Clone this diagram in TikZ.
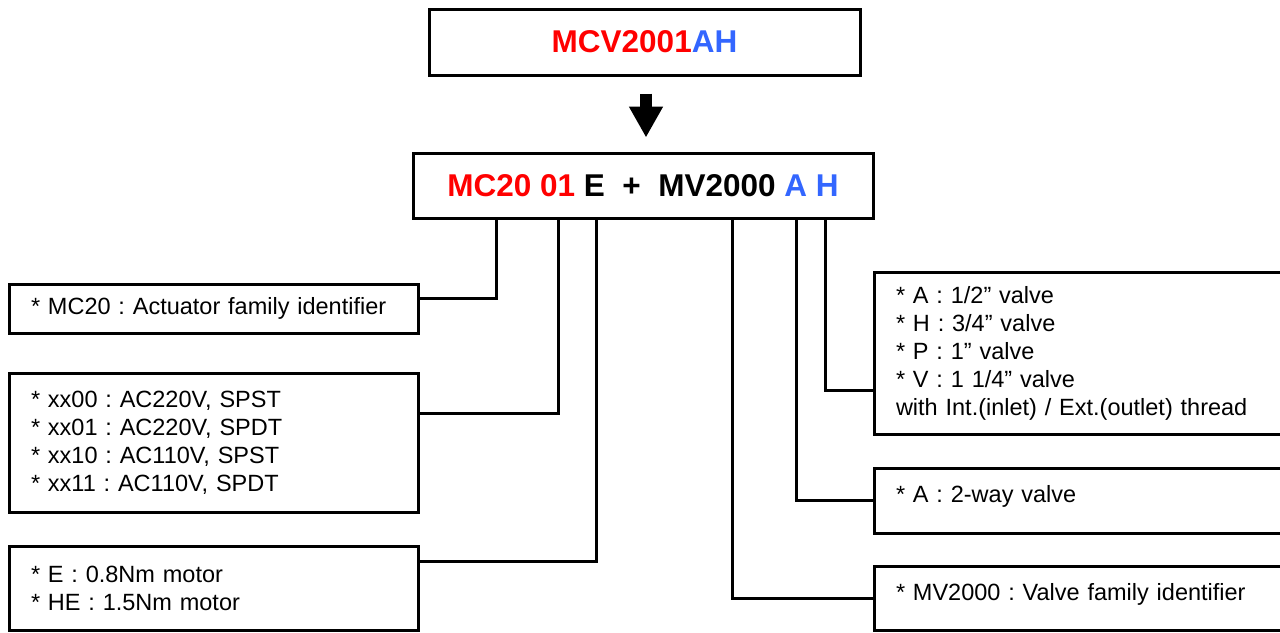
\documentclass[tikz,border=0pt]{standalone}
\usepackage{fontspec}
\setmainfont{Liberation Sans}
\usetikzlibrary{arrows.meta}
\frenchspacing
\definecolor{codered}{RGB}{255,0,0}
\definecolor{codeblue}{RGB}{51,102,255}
\tikzset{
  infobox/.style={draw, line width=3pt, inner sep=0pt, inner xsep=22pt, align=left,
    font=\fontsize{23.5}{28}\selectfont\frenchspacing},
  leftbox/.style={infobox, minimum width=409pt, text width=365pt},
  rightbox/.style={infobox, minimum width=421pt, text width=377pt},
  codebox/.style={draw, line width=3pt, inner sep=0pt,
    font=\fontsize{31.5}{38}\selectfont\bfseries},
  conn/.style={line width=3pt},
  bigarrow/.style={line width=12pt, -{Triangle[width=32pt,length=31pt]}}
}
\newcommand{\nl}{\\\relax}
\begin{document}
\begin{tikzpicture}[x=1pt,y=-1pt]
\useasboundingbox[fill=white] (0,0) rectangle (1280,632);

\node[codebox, minimum width=431pt, minimum height=66pt] (top) at (644.5,42)
  {\textcolor{codered}{MCV2001}\textcolor{codeblue}{AH}};
\node[codebox, minimum width=460pt, minimum height=65pt] (mid) at (643,185.5)
  {\textcolor{codered}{MC20 01} E~~+~~MV2000 \textcolor{codeblue}{A H}};

\draw[bigarrow] ([xshift=1.5pt,yshift=-17pt]top.south) -- ([xshift=1.5pt,yshift=14pt]top.south |- mid.north);

% left boxes
\node[leftbox, minimum height=49pt] (b1) at (213.5,308.5)
  {* MC20 : Actuator family identifier};
\node[leftbox, minimum height=139pt] (b2) at (213.5,442.5)
  {* xx00 : AC220V, SPST\nl * xx01 : AC220V, SPDT\nl * xx10 : AC110V, SPST\nl * xx11 : AC110V, SPDT};
\node[leftbox, minimum height=84pt] (b3) at (213.5,588)
  {* E : 0.8Nm motor\nl * HE : 1.5Nm motor};

% right boxes
\node[rightbox, minimum height=162pt] (b4) at (1084.5,353)
  {* A : 1/2” valve\nl * H : 3/4” valve\nl * P : 1” valve\nl * V : 1 1/4” valve\nl with Int.(inlet) / Ext.(outlet) thread};
\node[rightbox, minimum height=65pt, text depth=13pt] (b5) at (1084.5,500.5)
  {* A : 2-way valve};
\node[rightbox, minimum height=64pt, text depth=13pt] (b6) at (1084.5,598.5)
  {* MV2000 : Valve family identifier};

% connector end points
\coordinate (c1) at ([yshift=10.5pt]b1.east);
\coordinate (c2) at ([yshift=29.5pt]b2.east);
\coordinate (c3) at ([yshift=27pt]b3.east);
\coordinate (c4) at ([yshift=-37pt]b4.west);
\coordinate (c5) at (b5.west);
\coordinate (c6) at (b6.west);

\draw[conn] ([xshift=85pt]mid.south west) |- (c1);
\draw[conn] ([xshift=147pt]mid.south west) |- (c2);
\draw[conn] ([xshift=185pt]mid.south west) |- (c3);
\draw[conn] ([xshift=414pt]mid.south west) |- (c4);
\draw[conn] ([xshift=385pt]mid.south west) |- (c5);
\draw[conn] ([xshift=321pt]mid.south west) |- (c6);
\end{tikzpicture}
\end{document}
